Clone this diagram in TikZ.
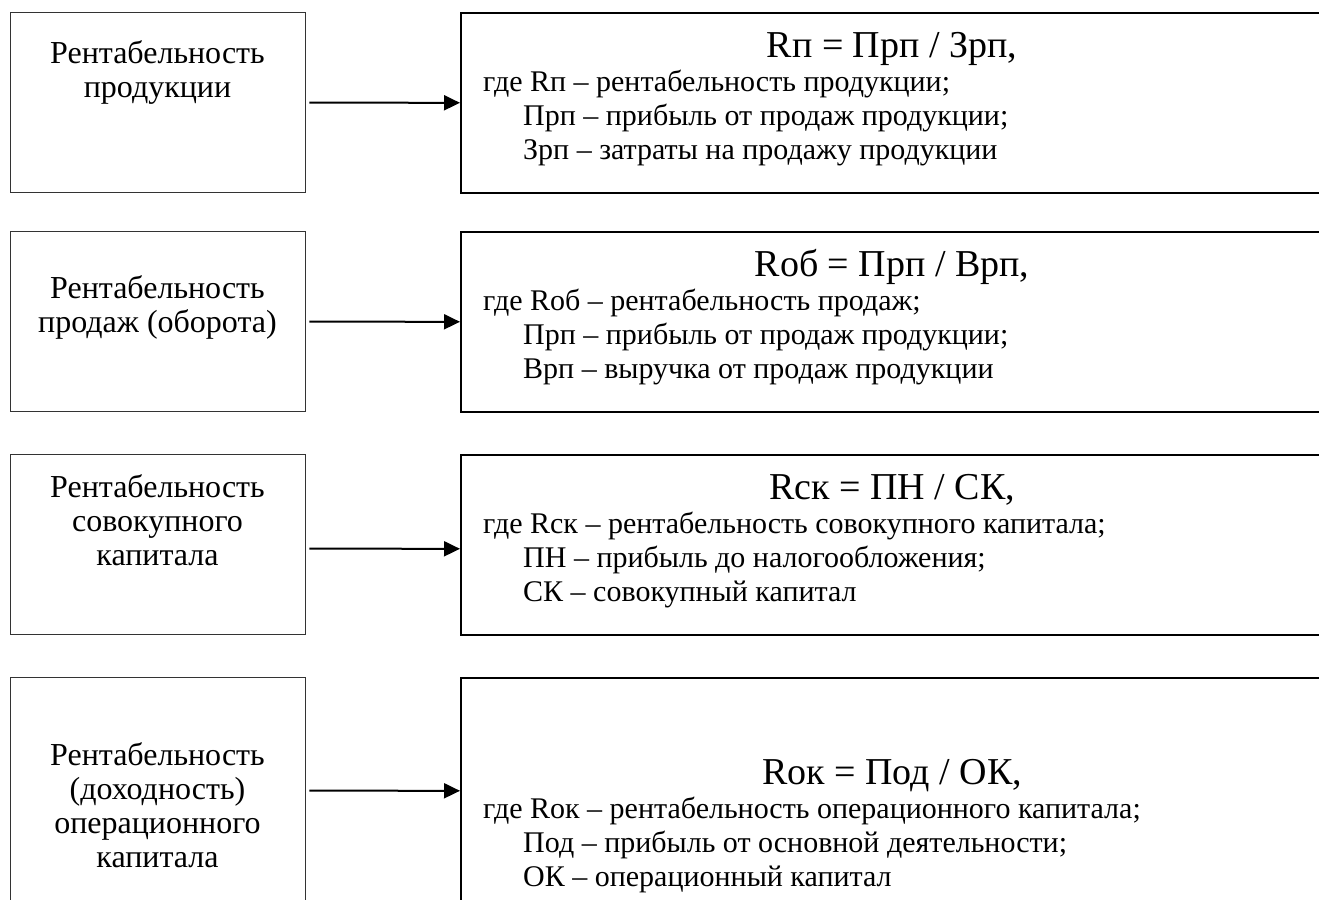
\documentclass[tikz,border=0pt]{standalone}
\usepackage{fontspec}
\setmainfont{Liberation Serif}
\newfontfamily\lserif{Liberation Serif}
\usetikzlibrary{arrows.meta}
\begin{document}
\begin{tikzpicture}[x=1pt,y=-1pt,
  lbox/.style={draw=black!80, line width=1.3pt, minimum width=295pt, minimum height=180pt, inner sep=0pt, anchor=north west},
  rbox/.style={draw=black, line width=1.6pt, minimum width=865pt, minimum height=180pt, inner sep=0pt, anchor=north west},
  ltext/.style={font=\lserif\fontsize{32}{34}\selectfont, align=center, anchor=base, inner sep=0pt},
  ftext/.style={font=\lserif\fontsize{38}{40}\selectfont, anchor=base, inner sep=0pt},
  btext/.style={font=\lserif\fontsize{30}{34}\selectfont, anchor=base west, inner sep=0pt},
  conn/.style={line width=2pt, -{Triangle[length=16pt,width=15pt]}, shorten <=3pt}
]
\useasboundingbox (0,0) rectangle (1319,899);
\fill[white] (0,0) rectangle (1319,899);
\clip (0,0) rectangle (1319,899);

% row 1
\node[lbox] (l1) at (10,12) {};
\node[rbox] (r1) at (460,12) {};
\node[ltext] (t1) at (157.5,97) {Рентабельность\\продукции};
\node[ftext] (f1) at (892,57) {Rп = Прп / Зрп,};
\node[btext] (a1) at (483,91) {где Rп – рентабельность продукции;};
\node[btext] (b1) at (523,125) {Прп – прибыль от продаж продукции;};
\node[btext] (c1) at (523,159) {Зрп – затраты на продажу продукции};
\draw[conn] (l1.east) -- (r1.west);

% row 2
\node[lbox] (l2) at (10,231) {};
\node[rbox] (r2) at (460,231) {};
\node[ltext] (t2) at (157.5,332) {Рентабельность\\продаж (оборота)};
\node[ftext] (f2) at (892,276) {Rоб = Прп / Врп,};
\node[btext] (a2) at (483,310) {где Rоб – рентабельность продаж;};
\node[btext] (b2) at (523,344) {Прп – прибыль от продаж продукции;};
\node[btext] (c2) at (523,378) {Врп – выручка от продаж продукции};
\draw[conn] (l2.east) -- (r2.west);

% row 3
\node[lbox] (l3) at (10,454) {};
\node[rbox] (r3) at (460,454) {};
\node[ltext] (t3) at (157.5,565) {Рентабельность\\совокупного\\капитала};
\node[ftext] (f3) at (892,499) {Rск = ПН / СК,};
\node[btext] (a3) at (483,533) {где Rск – рентабельность совокупного капитала;};
\node[btext] (b3) at (523,567) {ПН – прибыль до налогообложения;};
\node[btext] (c3) at (523,601) {СК – совокупный капитал};
\draw[conn] ([yshift=-4pt]l3.east) -- ([yshift=-4pt]r3.west);

% row 4
\node[lbox, minimum height=226pt] (l4) at (10,677) {};
\node[rbox, minimum height=226pt] (r4) at (460,677) {};
\node[ltext] (t4) at (157.5,867) {Рентабельность\\(доходность)\\операционного\\капитала};
\node[ftext] (f4) at (892,784) {Rок = Под / ОК,};
\node[btext] (a4) at (483,818) {где Rок – рентабельность операционного капитала;};
\node[btext] (b4) at (523,852) {Под – прибыль от основной деятельности;};
\node[btext] (c4) at (523,886) {ОК – операционный капитал};
\draw[conn] (l4.east) -- (r4.west);
\end{tikzpicture}
\end{document}
